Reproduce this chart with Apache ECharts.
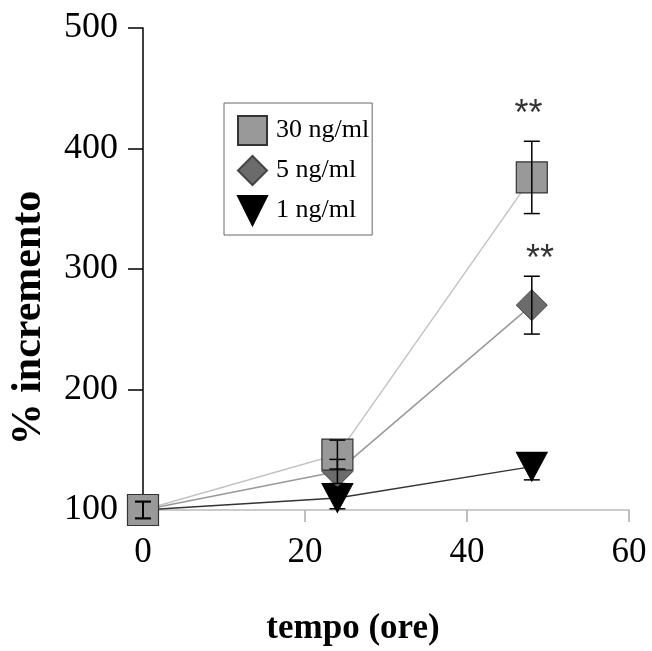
<!DOCTYPE html>
<html>
<head>
<meta charset="utf-8">
<script src="https://cdn.jsdelivr.net/npm/echarts@6/dist/echarts.min.js"></script>
<style>
  html, body { margin: 0; padding: 0; background: #fff; }
  #chart { width: 652px; height: 651px; }
</style>
</head>
<body>
<div id="chart"></div>
<script>
// tempo (ore)
var hours = [0, 24, 48];
// % incremento per concentrazione
var conc30 = [100, 146, 376];
var err30 = [7, 12, 30];
var conc5 = [100, 132, 270];
var err5 = [7, 10, 24];
var conc1 = [100, 110, 136];
var err1 = [7, 9, 11];
// asterischi di significatività
var sigPoints = [[47.6, 428], [49.0, 307]];
var sigText = '**';
var yTicks = [100, 200, 300, 400, 500];
var xTicks = [0, 20, 40, 60];

var serif = 'Liberation Serif';
var triPath = 'path://M0,0L10,0L5,10Z';

function pairs(xs, ys) {
  return xs.map(function (x, i) { return [x, ys[i]]; });
}
function errData(xs, ys, es) {
  return xs.map(function (x, i) { return [x, ys[i] - es[i], ys[i] + es[i]]; });
}

function errRender(params, api) {
  var lo = api.coord([api.value(0), api.value(1)]);
  var hi = api.coord([api.value(0), api.value(2)]);
  var w = 8;
  var st = { stroke: '#000', lineWidth: 1.5 };
  return {
    type: 'group',
    children: [
      { type: 'line', shape: { x1: lo[0], y1: lo[1], x2: hi[0], y2: hi[1] }, style: st },
      { type: 'line', shape: { x1: lo[0] - w, y1: lo[1], x2: lo[0] + w, y2: lo[1] }, style: st },
      { type: 'line', shape: { x1: hi[0] - w, y1: hi[1], x2: hi[0] + w, y2: hi[1] }, style: st }
    ]
  };
}

var myChart = echarts.init(document.getElementById('chart'));
var option = {
  backgroundColor: '#fff',
  animation: false,
  grid: { left: 142, top: 28, width: 487, height: 485 },
  legend: {
    orient: 'vertical',
    left: 224,
    top: 103,
    padding: [12, 3, 9, 13],
    itemWidth: 29,
    itemHeight: 29,
    itemGap: 9,
    borderColor: '#666',
    borderWidth: 1,
    textStyle: { fontFamily: serif, fontSize: 26, color: '#000', padding: [0, 0, 0, 4] },
    data: [
      { name: '30 ng/ml', icon: 'rect' },
      { name: '5 ng/ml', icon: 'diamond' },
      { name: '1 ng/ml', icon: triPath }
    ]
  },
  xAxis: {
    type: 'value',
    min: 0, max: 60, interval: 20,
    name: 'tempo (ore)',
    nameLocation: 'middle',
    nameGap: 101,
    nameTextStyle: { fontFamily: serif, fontSize: 35, fontWeight: 'bold', color: '#000', padding: [0, 66, 0, 0] },
    axisLine: { lineStyle: { color: '#bbb', width: 1.5 } },
    axisTick: { length: 12, lineStyle: { color: '#aaa', width: 1.5 } },
    axisLabel: {
      margin: 25, fontFamily: serif, fontSize: 35, color: '#000',
      customValues: xTicks
    },
    splitLine: { show: false }
  },
  yAxis: {
    type: 'value',
    min: 100, max: 500, interval: 100,
    name: '% incremento',
    nameLocation: 'middle',
    nameGap: 93,
    nameTextStyle: { fontFamily: serif, fontSize: 42, fontWeight: 'bold', color: '#000', padding: [0, 98, 0, 0] },
    axisLine: { lineStyle: { color: '#000', width: 1.5 } },
    axisTick: { length: 15, lineStyle: { color: '#000', width: 1.5 } },
    axisLabel: {
      margin: 25, fontFamily: serif, fontSize: 36, color: '#000',
      customValues: yTicks
    },
    splitLine: { show: false }
  },
  series: [
    {
      name: '1 ng/ml', type: 'line', data: pairs(hours, conc1), z: 2,
      symbol: triPath, symbolSize: [31, 29], symbolKeepAspect: false,
      lineStyle: { color: '#333', width: 1.5 },
      itemStyle: { color: '#000', borderColor: '#000', borderWidth: 1 }
    },
    {
      name: '5 ng/ml', type: 'line', data: pairs(hours, conc5), z: 3,
      symbol: 'diamond', symbolSize: 31,
      lineStyle: { color: '#999', width: 1.5 },
      itemStyle: { color: '#6b6b6b', borderColor: '#444', borderWidth: 1 }
    },
    {
      name: '30 ng/ml', type: 'line', data: pairs(hours, conc30), z: 4,
      symbol: 'rect', symbolSize: 31,
      lineStyle: { color: '#c4c4c4', width: 1.5 },
      itemStyle: { color: '#999', borderColor: '#333', borderWidth: 1.2 }
    },
    { type: 'custom', renderItem: errRender, data: errData(hours, conc1, err1), z: 10 },
    { type: 'custom', renderItem: errRender, data: errData(hours, conc5, err5), z: 10 },
    { type: 'custom', renderItem: errRender, data: errData(hours, conc30, err30), z: 10 },
    {
      type: 'scatter', data: sigPoints, symbolSize: 0, z: 11,
      label: {
        show: true, position: 'inside', formatter: sigText,
        fontFamily: 'Liberation Sans', fontSize: 36, color: '#000'
      }
    }
  ]
};
myChart.setOption(option);
window.addEventListener('resize', function () { myChart.resize(); });
</script>
</body>
</html>
